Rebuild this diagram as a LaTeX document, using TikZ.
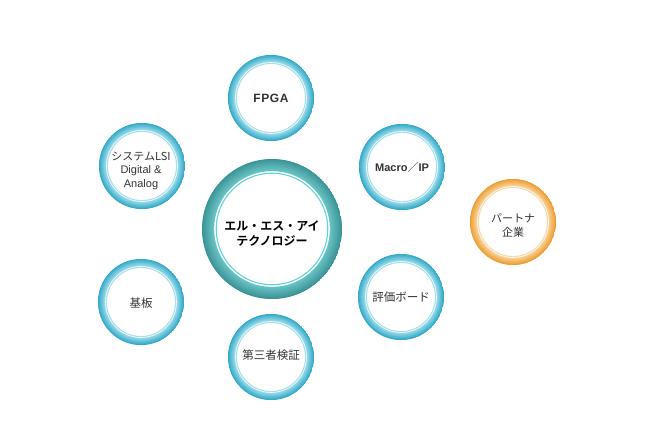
\documentclass[tikz,border=0pt]{standalone}
\usepackage{fontspec}
\setmainfont{Liberation Sans}
\newfontfamily\jp{Noto Sans CJK JP}
\newfontfamily\jpb{Noto Sans CJK JP Bold}
\definecolor{blueout}{HTML}{2FA8C8}
\definecolor{bluein}{HTML}{9CDCEA}
\definecolor{blueline}{HTML}{A6E0EC}
\definecolor{tealout}{HTML}{3A9396}
\definecolor{tealin}{HTML}{6CC6C7}
\definecolor{tealline}{HTML}{5ED5D8}
\definecolor{orout}{HTML}{EE9C2E}
\definecolor{orin}{HTML}{F8D49C}
\definecolor{orline}{HTML}{F8D9AA}
\definecolor{txt}{HTML}{333333}
\tikzset{
  ringfill/.style n args={6}{% outer r, inner r, line r, out col, in col, line col
    path picture={
      \foreach \i in {0,...,30}{
        \pgfmathsetmacro\rr{#1-(#1-#2)*\i/30}
        \pgfmathtruncatemacro\pp{100*\i/30}
        \fill[#5!\pp!#4] (path picture bounding box.center) circle (\rr pt);
      }
      \fill[white] (path picture bounding box.center) circle (#2 pt-0.2pt);
      \draw[#6, line width=1.1pt] (path picture bounding box.center) circle (#3 pt);
    }},
  smallbubble/.style 2 args={circle, minimum size=86pt, inner sep=0pt,
    ringfill={43}{36}{34.6}{#1}{#2}{blueline}},
  bluebubble/.style={circle, minimum size=86pt, inner sep=0pt,
    ringfill={43}{36}{34.6}{blueout}{bluein}{blueline}},
  orbubble/.style={circle, minimum size=86pt, inner sep=0pt,
    ringfill={43}{36}{34.6}{orout}{orin}{orline}},
  bigbubble/.style={circle, minimum size=140pt, inner sep=0pt,
    ringfill={70}{58}{55.8}{tealout}{tealin}{tealline}},
  lbl/.style={text=txt, align=center, font=\fontsize{11}{14}\selectfont}
}
\begin{document}
\begin{tikzpicture}[x=1pt,y=-1pt]
\useasboundingbox (0,0) rectangle (660,440);
\fill[white] (0,0) rectangle (660,440);
\node[bigbubble] (llc) at (272,229) {};
\node[bluebubble] (fpga) at (271,98) {};
\node[bluebubble] (lsi) at (142,166) {};
\node[bluebubble] (macro) at (402,167) {};
\node[orbubble] (partner) at (513,222) {};
\node[bluebubble] (kiban) at (141,302) {};
\node[bluebubble] (hyouka) at (401,297) {};
\node[bluebubble] (daisan) at (271,357) {};

\node[lbl, font=\jpb\fontsize{12}{15}\selectfont, text=black] (llct) at (272,233.5) {エル・エス・アイ\\テクノロジー};
\node[lbl, font=\bfseries\fontsize{12}{14}\selectfont] (fpgat) at (fpga) {F\kern0.6pt P\kern0.6pt G\kern0.6pt A};
\node[lbl] (lsit) at (141,171) {{\jp システムLSI}\\[-1pt]Digital \&\\Analog};
\node[lbl, font=\bfseries\fontsize{11}{14}\selectfont] (macrot) at (402,167) {Macro{\jp\mdseries ／}IP};
\node[lbl, font=\jp\fontsize{11}{14}\selectfont] (partnert) at (513,225) {パートナ\\企業};
\node[lbl, font=\jp\fontsize{11.5}{14}\selectfont] (kibant) at (141,303) {基板};
\node[lbl, font=\jp\fontsize{11.5}{14}\selectfont] (hyoukat) at (401,297) {評価ボード};
\node[lbl, font=\jp\fontsize{11.5}{14}\selectfont] (daisant) at (271,355) {第三者検証};
\end{tikzpicture}
\end{document}
